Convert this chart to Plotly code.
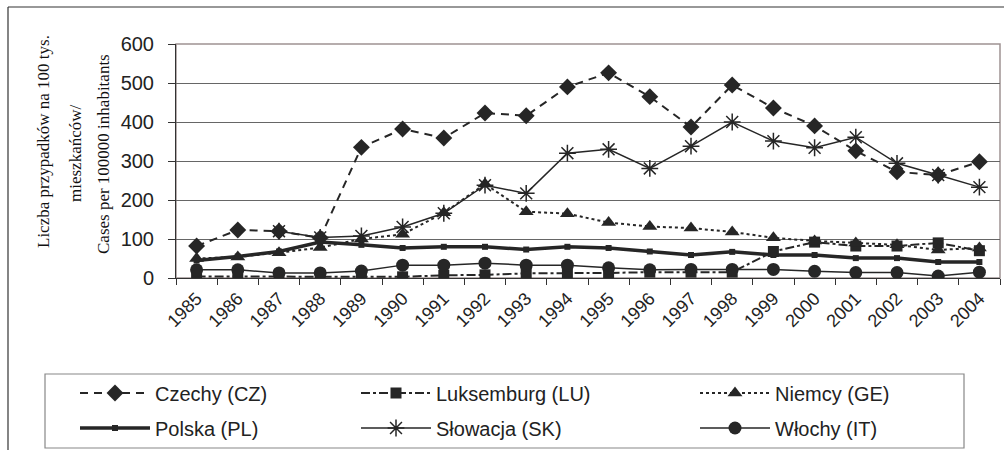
import plotly.graph_objects as go

years = [str(y) for y in range(1985, 2005)]

cz = [82, 123, 120, 103, 335, 382, 359, 423, 416, 490, 526, 465, 387, 495, 436, 390, 326, 272, 264, 298]
lu = [4, 4, 4, 4, 4, 3, 7, 8, 12, 12, 13, 15, 15, 15, 68, 92, 82, 82, 90, 70]
ge = [50, 54, 65, 78, 100, 112, 167, 241, 170, 165, 142, 132, 128, 118, 103, 95, 90, 85, 72, 77]
pl = [45, 55, 68, 92, 85, 77, 80, 80, 73, 80, 77, 68, 59, 67, 59, 59, 51, 51, 41, 41]
sk = [None, None, 120, 104, 108, 131, 166, 238, 217, 320, 330, 281, 338, 400, 351, 334, 361, 294, 264, 233]
it = [21, 21, 13, 13, 18, 33, 33, 38, 33, 33, 26, 21, 22, 22, 22, 17, 14, 14, 5, 15]

names = ["Czechy (CZ)", "Luksemburg (LU)", "Niemcy (GE)", "Polska (PL)", "Słowacja (SK)", "Włochy (IT)"]

C = "#262626"

# plot-area pixel geometry (for paper-coordinate conversions of decorations)
L, R, T, B = 176, 1000, 44, 278
def px(x):
    return (x - L) / (R - L)
def py(y):
    return (B - y) / (B - T)

fig = go.Figure()

specs = [
    (cz, dict(color=C, width=2, dash="8px,6px"), dict(symbol="diamond", size=13)),
    (lu, dict(color=C, width=2, dash="dashdot"), dict(symbol="square", size=11)),
    (ge, dict(color=C, width=2, dash="dot"), dict(symbol="triangle-up", size=13)),
    (pl, dict(color=C, width=3.5), dict(symbol="square", size=6)),
    (sk, dict(color=C, width=1.5), dict(symbol="asterisk-open", size=14, line=dict(color=C, width=1.5))),
    (it, dict(color=C, width=1.5), dict(symbol="circle", size=13)),
]

for i, (vals, line, marker) in enumerate(specs):
    marker = dict(marker)
    marker.setdefault("color", C)
    fig.add_trace(go.Scatter(
        x=years, y=vals, name=names[i], mode="lines+markers",
        line=line, marker=marker, connectgaps=False,
        legend="legend" if i == 0 else f"legend{i+1}",
    ))

# legend positions: columns and rows
col_x = [75, 356, 695]
row_y = [393, 428]
legend_layout = {}
order = [(0, 0), (0, 1), (0, 2), (1, 0), (1, 1), (1, 2)]
for i, (r, c) in enumerate(order):
    key = "legend" if i == 0 else f"legend{i+1}"
    legend_layout[key] = dict(
        x=px(col_x[c]), y=py(row_y[r]), xanchor="left", yanchor="middle",
        bgcolor="rgba(0,0,0,0)", borderwidth=0, itemwidth=70,
        font=dict(family="Liberation Sans, Arial, sans-serif", size=20, color="#222"),
    )

fig.update_layout(
    width=1004, height=450,
    margin=dict(l=L, r=1004 - R, t=T, b=450 - B, autoexpand=False),
    paper_bgcolor="white", plot_bgcolor="white",
    showlegend=True,
    **legend_layout,
)

fig.update_xaxes(
    type="category", range=[-0.5, len(years) - 0.5], tickson="boundaries",
    ticks="outside", ticklen=6, tickcolor="#333",
    tickangle=-45, showline=True, linecolor="#333", linewidth=1, showgrid=False,
    ticklabelstandoff=2,
    tickfont=dict(family="Liberation Sans, Arial, sans-serif", size=18, color="#222"),
)
fig.update_yaxes(
    range=[0, 600], dtick=100, ticks="outside", ticklen=7, tickcolor="#333",
    showline=True, linecolor="#333", linewidth=1, showgrid=True, gridcolor="#666", gridwidth=1,
    zeroline=False, ticklabelstandoff=10,
    tickfont=dict(family="Liberation Sans, Arial, sans-serif", size=20, color="#222"),
)

# plot area border (top / right)
fig.add_shape(type="rect", xref="paper", yref="paper", x0=0, x1=1, y0=0, y1=1,
              line=dict(color="#9e9292", width=1.5), layer="below")
# legend box
fig.add_shape(type="rect", xref="paper", yref="paper", x0=px(45), x1=px(964), y0=py(448), y1=py(374),
              line=dict(color="#888", width=1.2))
# outer frame (left and top)
fig.add_shape(type="line", xref="paper", yref="paper", x0=px(8), x1=px(8), y0=py(7), y1=py(460),
              line=dict(color="#333", width=1.2))
fig.add_shape(type="line", xref="paper", yref="paper", x0=px(8), x1=px(1010), y0=py(7), y1=py(7),
              line=dict(color="#333", width=1.2))

# y-axis title (three lines)
ytitle = ["Liczba przypadków na 100 tys.", "mieszkańców/", "Cases per 100000 inhabitants"]
ypos = [(43, 142), (75, 153), (103, 154)]
for txt, (xx, yy) in zip(ytitle, ypos):
    fig.add_annotation(text=txt, xref="paper", yref="paper", x=px(xx), y=py(yy),
                       xanchor="center", yanchor="middle", textangle=-90, showarrow=False,
                       font=dict(family="Liberation Serif, Times New Roman, serif", size=17, color="#111"))

fig.write_html("out.html", config={"displayModeBar": False},
               post_script="document.body.style.margin='0px';")
